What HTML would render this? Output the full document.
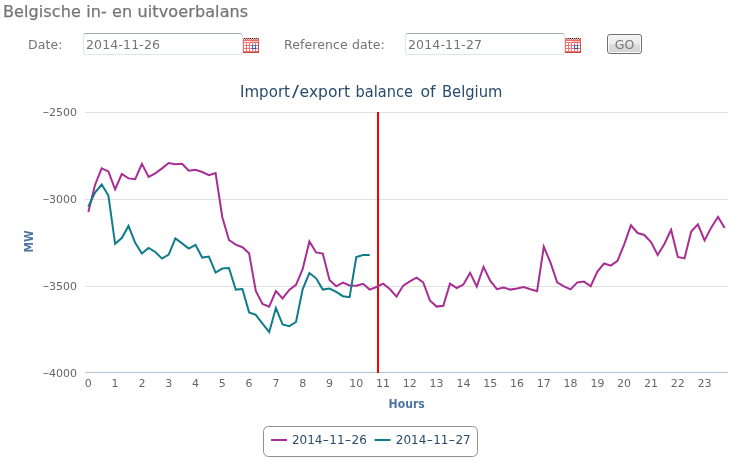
<!DOCTYPE html>
<html><head><meta charset="utf-8"><title>Belgische in- en uitvoerbalans</title>
<style>
html,body{margin:0;padding:0;background:#fff;}
body{width:740px;height:467px;overflow:hidden;position:relative;font-family:"DejaVu Sans","Liberation Sans",sans-serif;color:#666;}
h1{position:absolute;left:2.9px;top:1.6px;letter-spacing:0.12px;margin:0;font-weight:normal;font-size:16px;line-height:20px;color:#757575;-webkit-text-stroke:0.25px #757575;white-space:nowrap;}
.lbl{position:absolute;top:37.4px;font-size:12.5px;line-height:16px;color:#747474;letter-spacing:0.1px;white-space:nowrap;}
.inp{position:absolute;top:33px;width:160px;height:22px;box-sizing:border-box;border:1px solid #dfe5ee;border-top-color:#a6abb2;border-radius:3px;background:#fff;font-size:12.5px;line-height:21.4px;padding:0 0 0 2px;color:#747474;letter-spacing:0.15px;white-space:nowrap;}
.cal{position:absolute;top:38px;width:16px;height:15px;}
.go{position:absolute;left:607px;top:34px;width:35px;height:20px;box-sizing:border-box;border:1px solid #707070;border-radius:3px;background:linear-gradient(#f4f4f4 0%,#ebebeb 50%,#dedede 50%,#d2d2d2 100%);box-shadow:inset 0 0 0 1px #fafafa;font-size:12.5px;line-height:20px;text-align:center;color:#777;}
svg.chart{position:absolute;left:0;top:0;}
svg text{font-family:"DejaVu Sans","Liberation Sans",sans-serif;}
</style></head><body>
<h1>Belgische in- en uitvoerbalans</h1>
<span class="lbl" style="left:28px">Date:</span>
<div class="inp" style="left:83px">2014-11-26</div>
<svg class="cal" style="left:243px" viewBox="0 0 16 15"><rect x="0" y="0" width="16" height="15" fill="#ee7772"/>
<rect x="0" y="0" width="16" height="1" fill="#f5a29e"/>
<rect x="0" y="1" width="16" height="1" fill="#e9605b"/>
<rect x="0" y="2" width="16" height="1" fill="#ec6b66"/>
<g fill="#4f1815"><rect x="1" y="0" width="1" height="1"/><rect x="3" y="0" width="1" height="1"/><rect x="5" y="0" width="1" height="1"/><rect x="7" y="0" width="1" height="1"/><rect x="9" y="0" width="1" height="1"/><rect x="11" y="0" width="1" height="1"/><rect x="13" y="0" width="1" height="1"/></g>
<g fill="#fbe6e5"><rect x="1" y="1" width="1" height="1"/><rect x="3" y="1" width="1" height="1"/><rect x="5" y="1" width="1" height="1"/><rect x="7" y="1" width="1" height="1"/><rect x="9" y="1" width="1" height="1"/><rect x="11" y="1" width="1" height="1"/><rect x="13" y="1" width="1" height="1"/></g>
<rect x="15" y="0" width="1" height="1" fill="#e6504a"/>
<rect x="1" y="3" width="6" height="1" fill="#fdf0ef"/><rect x="7" y="3" width="8" height="1" fill="#f6b6b3"/>
<g fill="#fff"><rect x="1" y="5" width="2" height="2"/><rect x="4" y="5" width="2" height="2"/><rect x="7" y="5" width="2" height="2"/><rect x="10" y="5" width="2" height="2"/><rect x="13" y="5" width="2" height="2"/><rect x="1" y="8" width="2" height="2"/><rect x="4" y="8" width="2" height="2"/><rect x="7" y="8" width="2" height="2"/><rect x="10" y="8" width="2" height="2"/><rect x="13" y="8" width="2" height="2"/><rect x="1" y="11" width="2" height="2"/><rect x="4" y="11" width="2" height="2"/><rect x="7" y="11" width="2" height="2"/><rect x="10" y="11" width="2" height="2"/><rect x="13" y="11" width="2" height="2"/></g>
<rect x="9" y="7" width="4" height="4" fill="#2f63d9"/><rect x="9" y="7" width="4" height="1" fill="#4a7be6"/><rect x="9" y="10" width="4" height="1" fill="#2150c4"/>
<rect x="10" y="8" width="2" height="2" fill="#fff"/>
<rect x="15" y="4" width="1" height="11" fill="#c4534f"/><rect x="0" y="14" width="16" height="1" fill="#b74a46"/></svg>
<span class="lbl" style="left:284px">Reference date:</span>
<div class="inp" style="left:405px">2014-11-27</div>
<svg class="cal" style="left:565px" viewBox="0 0 16 15"><rect x="0" y="0" width="16" height="15" fill="#ee7772"/>
<rect x="0" y="0" width="16" height="1" fill="#f5a29e"/>
<rect x="0" y="1" width="16" height="1" fill="#e9605b"/>
<rect x="0" y="2" width="16" height="1" fill="#ec6b66"/>
<g fill="#4f1815"><rect x="1" y="0" width="1" height="1"/><rect x="3" y="0" width="1" height="1"/><rect x="5" y="0" width="1" height="1"/><rect x="7" y="0" width="1" height="1"/><rect x="9" y="0" width="1" height="1"/><rect x="11" y="0" width="1" height="1"/><rect x="13" y="0" width="1" height="1"/></g>
<g fill="#fbe6e5"><rect x="1" y="1" width="1" height="1"/><rect x="3" y="1" width="1" height="1"/><rect x="5" y="1" width="1" height="1"/><rect x="7" y="1" width="1" height="1"/><rect x="9" y="1" width="1" height="1"/><rect x="11" y="1" width="1" height="1"/><rect x="13" y="1" width="1" height="1"/></g>
<rect x="15" y="0" width="1" height="1" fill="#e6504a"/>
<rect x="1" y="3" width="6" height="1" fill="#fdf0ef"/><rect x="7" y="3" width="8" height="1" fill="#f6b6b3"/>
<g fill="#fff"><rect x="1" y="5" width="2" height="2"/><rect x="4" y="5" width="2" height="2"/><rect x="7" y="5" width="2" height="2"/><rect x="10" y="5" width="2" height="2"/><rect x="13" y="5" width="2" height="2"/><rect x="1" y="8" width="2" height="2"/><rect x="4" y="8" width="2" height="2"/><rect x="7" y="8" width="2" height="2"/><rect x="10" y="8" width="2" height="2"/><rect x="13" y="8" width="2" height="2"/><rect x="1" y="11" width="2" height="2"/><rect x="4" y="11" width="2" height="2"/><rect x="7" y="11" width="2" height="2"/><rect x="10" y="11" width="2" height="2"/><rect x="13" y="11" width="2" height="2"/></g>
<rect x="9" y="7" width="4" height="4" fill="#2f63d9"/><rect x="9" y="7" width="4" height="1" fill="#4a7be6"/><rect x="9" y="10" width="4" height="1" fill="#2150c4"/>
<rect x="10" y="8" width="2" height="2" fill="#fff"/>
<rect x="15" y="4" width="1" height="11" fill="#c4534f"/><rect x="0" y="14" width="16" height="1" fill="#b74a46"/></svg>
<div class="go">GO</div>

<svg class="chart" width="740" height="467" viewBox="0 0 740 467">
<g stroke="#e0e0e0" stroke-width="1" shape-rendering="crispEdges"><path d="M85 112.5H728M85 199.5H728M85 286.5H728"/></g>
<path d="M85 372.5H728" stroke="#b3c5dd" stroke-width="1" shape-rendering="crispEdges"/>
<path d="M378 112V373" stroke="#ff0000" stroke-width="2" shape-rendering="crispEdges"/>
<polyline fill="none" stroke="#a82e93" stroke-width="2" stroke-linejoin="miter" stroke-linecap="butt" points="88.3,212.0 95.0,185.0 101.7,168.4 108.4,171.4 115.1,189.3 121.8,174.0 128.5,178.4 135.2,179.2 141.9,163.9 148.6,177.0 155.3,173.4 162.0,168.4 168.7,163.0 175.4,164.2 182.1,163.8 188.8,170.8 195.5,169.8 202.2,172.0 208.9,175.2 215.6,173.0 222.3,217.2 229.0,240.0 235.7,244.6 242.4,247.2 249.1,253.2 255.8,291.0 262.5,304.0 269.2,306.6 275.9,291.0 282.6,298.4 289.3,290.0 296.0,284.8 302.7,269.0 309.4,241.4 316.1,252.4 322.8,253.6 329.5,280.0 336.2,286.3 342.9,282.7 349.6,285.5 356.3,285.8 363.0,283.8 369.7,289.6 376.4,287.0 383.1,283.6 389.8,289.0 396.5,296.6 403.2,285.6 409.9,281.4 416.6,277.6 423.2,282.4 429.9,300.4 436.6,306.6 443.3,305.8 450.0,283.6 456.7,288.0 463.4,284.6 470.1,272.8 476.8,286.6 483.5,266.8 490.2,280.6 496.9,289.2 503.6,287.6 510.3,289.6 517.0,288.4 523.7,287.0 530.4,289.2 537.1,291.2 543.8,246.7 550.5,262.6 557.2,282.4 563.9,286.4 570.6,289.4 577.3,282.4 584.0,281.6 590.7,286.2 597.4,271.6 604.1,263.5 610.8,265.6 617.5,260.8 624.2,244.4 630.9,225.3 637.6,233.0 644.3,235.0 651.0,242.0 657.7,254.9 664.4,244.0 671.1,229.8 677.8,256.9 684.5,258.4 691.2,231.6 697.9,224.4 704.6,240.4 711.3,227.4 718.0,217.0 724.7,228.0"/>
<polyline fill="none" stroke="#0f7c8c" stroke-width="2" stroke-linejoin="miter" stroke-linecap="butt" points="88.3,206.6 95.0,192.6 101.7,184.5 108.4,195.5 115.1,243.8 121.8,238.0 128.5,225.9 135.2,242.8 141.9,253.6 148.6,248.0 155.3,252.0 162.0,258.6 168.7,254.6 175.4,238.4 182.1,243.4 188.8,248.6 195.5,244.8 202.2,257.6 208.9,256.6 215.6,272.6 222.3,268.6 229.0,268.0 235.7,289.6 242.4,289.0 249.1,312.4 255.8,314.8 262.5,323.6 269.2,332.0 275.9,308.0 282.6,324.4 289.3,326.2 296.0,322.0 302.7,289.0 309.4,273.0 316.1,278.3 322.8,289.6 329.5,288.5 336.2,291.8 342.9,296.2 349.6,297.2 356.3,257.1 363.0,255.0 369.7,255.0"/>
<text y="97" font-size="15.5" fill="#274b6d"><tspan x="240" textLength="50" lengthAdjust="spacingAndGlyphs">Import</tspan><tspan x="292" textLength="7" lengthAdjust="spacingAndGlyphs">/</tspan><tspan x="299.6" textLength="50.4" lengthAdjust="spacingAndGlyphs">export</tspan> <tspan x="355.6" textLength="57.4" lengthAdjust="spacingAndGlyphs">balance</tspan> <tspan x="420.4" textLength="15.2" lengthAdjust="spacingAndGlyphs">of</tspan> <tspan x="442" textLength="60.4" lengthAdjust="spacingAndGlyphs">Belgium</tspan></text>
<g font-size="11" fill="#666"><text x="42.6" y="116"><tspan dy="-0.8" textLength="7" lengthAdjust="spacingAndGlyphs">-</tspan><tspan x="49" dy="0.8">2500</tspan></text><text x="42.6" y="203"><tspan dy="-0.8" textLength="7" lengthAdjust="spacingAndGlyphs">-</tspan><tspan x="49" dy="0.8">3000</tspan></text><text x="42.6" y="290"><tspan dy="-0.8" textLength="7" lengthAdjust="spacingAndGlyphs">-</tspan><tspan x="49" dy="0.8">3500</tspan></text><text x="42.6" y="377"><tspan dy="-0.8" textLength="7" lengthAdjust="spacingAndGlyphs">-</tspan><tspan x="49" dy="0.8">4000</tspan></text></g>
<g font-size="11" fill="#666" text-anchor="middle"><text x="88.3" y="387">0</text><text x="115.1" y="387">1</text><text x="141.9" y="387">2</text><text x="168.7" y="387">3</text><text x="195.5" y="387">4</text><text x="222.3" y="387">5</text><text x="249.1" y="387">6</text><text x="275.9" y="387">7</text><text x="302.7" y="387">8</text><text x="329.5" y="387">9</text><text x="356.2" y="387">10</text><text x="383.0" y="387">11</text><text x="409.8" y="387">12</text><text x="436.6" y="387">13</text><text x="463.4" y="387">14</text><text x="490.2" y="387">15</text><text x="517.0" y="387">16</text><text x="543.8" y="387">17</text><text x="570.6" y="387">18</text><text x="597.4" y="387">19</text><text x="624.1" y="387">20</text><text x="650.9" y="387">21</text><text x="677.7" y="387">22</text><text x="704.5" y="387">23</text></g>
<text transform="translate(33.3,252.5) rotate(-90)" font-size="12" font-weight="bold" fill="#4d759e" textLength="22.2" lengthAdjust="spacingAndGlyphs">MW</text>
<text x="388.6" y="407.7" font-size="11.5" font-weight="bold" fill="#4d759e" textLength="36.2" lengthAdjust="spacingAndGlyphs">Hours</text>
<rect x="263.5" y="426.5" width="214" height="30" rx="5" ry="5" fill="#fff" stroke="#909090" stroke-width="1"/>
<path d="M271 440H287" stroke="#a82e93" stroke-width="2"/>
<path d="M374.5 440H390.5" stroke="#0f7c8c" stroke-width="2"/>
<g font-size="12" fill="#274b6d"><text y="444"><tspan x="291.9">2014</tspan><tspan x="322.5" textLength="6.6" lengthAdjust="spacingAndGlyphs">-</tspan><tspan x="329.3">11</tspan><tspan x="344.7" textLength="6.6" lengthAdjust="spacingAndGlyphs">-</tspan><tspan x="351.5">26</tspan></text><text y="444"><tspan x="395.8">2014</tspan><tspan x="426.4" textLength="6.6" lengthAdjust="spacingAndGlyphs">-</tspan><tspan x="433.2">11</tspan><tspan x="448.6" textLength="6.6" lengthAdjust="spacingAndGlyphs">-</tspan><tspan x="455.4">27</tspan></text></g>
</svg>
</body></html>
